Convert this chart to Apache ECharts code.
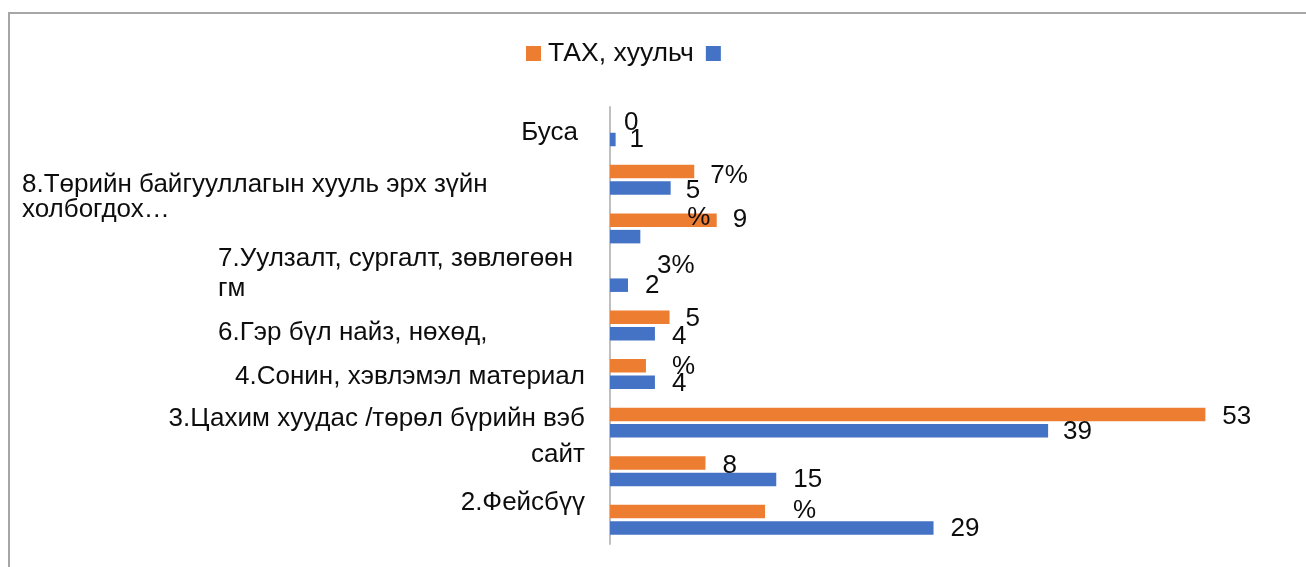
<!DOCTYPE html>
<html>
<head>
<meta charset="utf-8">
<script src="https://cdn.jsdelivr.net/npm/echarts@6.0.0/dist/echarts.min.js"></script>
<style>
  html, body { margin: 0; padding: 0; background: #fff; }
  #chart { width: 1306px; height: 567px; }
</style>
</head>
<body>
<div id="chart"></div>
<script>
// categories top to bottom, two of the slots carry no axis text
var categories = [
	'Буса',
	'8.Төрийн байгууллагын хууль эрх зүйн\nхолбогдох…',
	'',
	'7.Уулзалт, сургалт, зөвлөгөөн\nгм',
	'6.Гэр бүл найз, нөхөд,',
	'4.Сонин, хэвлэмэл материал',
	'3.Цахим хуудас /төрөл бүрийн вэб\nсайт',
	'',
	'2.Фейсбүү'
];
var seriesNames = ['ТАХ, хуульч', ' '];
var takValues = [0, 7.5, 9.5, 0, 5.3, 3.2, 53, 8.5, 13.8];
var otherValues = [0.5, 5.4, 2.7, 1.6, 4, 4, 39, 14.8, 28.8];
var takLabels = ['0', '7%', '9', '3%', '5', '%', '53', '8', '%'];
var otherLabels = ['1', '5', '%', '2', '4', '4', '39', '15', '29'];

// label nudges [dx, dy], the labels in the original sit a bit off
var takLabelShift = [[0, 0], [2, 4], [2, 0], [33, -3], [2, 2], [12, 1], [3, 2], [3, 3], [14, -1]];
var otherLabelShift = [[0, 0], [1, 3], [33, -19], [3, 1], [3, 3], [3, 2], [1, 1], [3, 0], [3, 1]];

// per category text style of the axis labels
var catStyles = [
	{ lineHeight: 26, padding: [4, 7, 0, 0] },
	{ lineHeight: 25, width: 563, align: 'left', padding: [35, 0, 0, 0] },
	{ lineHeight: 26 },
	{ lineHeight: 30, width: 367, align: 'left', padding: [0, 0, 6, 0] },
	{ lineHeight: 26, width: 367, align: 'left', padding: [14, 0, 0, 0] },
	{ lineHeight: 26, padding: [6, 0, 0, 0] },
	{ lineHeight: 36, padding: [28, 0, 0, 0] },
	{ lineHeight: 26 },
	{ lineHeight: 26, padding: [0, 0, 34, 0] }
];

var textColor = '#0d0d0d';
var fontFamily = '"Liberation Sans", Arial, sans-serif';

function buildData(values, labels, shifts) {
	var out = [];
	for (var i = 0; i < values.length; i++) {
		out.push({
			value: values[i],
			label: { formatter: labels[i], offset: shifts[i] }
		});
	}
	return out;
}

var rich = {};
for (var k = 0; k < catStyles.length; k++) {
	rich['c' + k] = Object.assign({
		fontSize: 26,
		fontFamily: fontFamily,
		color: textColor
	}, catStyles[k]);
}

var barLabel = {
	show: true,
	position: 'right',
	distance: 14,
	fontSize: 26,
	fontFamily: fontFamily,
	color: textColor
};

var option = {
	animation: false,
	backgroundColor: '#fff',
	textStyle: { fontFamily: fontFamily },
	legend: {
		left: 526,
		top: 40,
		padding: 0,
		itemGap: 12,
		itemWidth: 15,
		itemHeight: 15,
		icon: 'rect',
		data: seriesNames,
		textStyle: { fontSize: 26.5, lineHeight: 26, padding: [0, 0, 0, 2], color: textColor, fontFamily: fontFamily }
	},
	grid: {
		left: 610,
		right: 22,
		top: 107,
		bottom: 23,
		containLabel: false,
		outerBoundsMode: 'none'
	},
	xAxis: {
		type: 'value',
		min: 0,
		max: 60,
		show: false
	},
	yAxis: {
		type: 'category',
		inverse: true,
		data: categories,
		axisLine: { show: true, lineStyle: { color: '#bfbfbf', width: 2 } },
		axisTick: { show: false },
		splitLine: { show: false },
		axisLabel: {
			interval: 0,
			margin: 25,
			hideOverlap: false,
			formatter: function (value, index) {
				if (!value) return '';
				return value.split('\n').map(function (line) {
					return '{c' + index + '|' + line + '}';
				}).join('\n');
			},
			rich: rich
		}
	},
	series: [
		{
			name: seriesNames[0],
			type: 'bar',
			barWidth: 13.5,
			barGap: '22%',
			itemStyle: { color: '#ED7D31' },
			label: barLabel,
			data: buildData(takValues, takLabels, takLabelShift)
		},
		{
			name: seriesNames[1],
			type: 'bar',
			barWidth: 13.5,
			barGap: '22%',
			itemStyle: { color: '#4472C4' },
			label: barLabel,
			data: buildData(otherValues, otherLabels, otherLabelShift)
		}
	],
	graphic: [
		{
			type: 'polyline',
			silent: true,
			shape: { points: [[9, 570], [9, 13], [1310, 13]] },
			style: { stroke: '#a6a6a6', lineWidth: 2, fill: null }
		}
	]
};

var chart = echarts.init(document.getElementById('chart'));
chart.setOption(option);
</script>
</body>
</html>
